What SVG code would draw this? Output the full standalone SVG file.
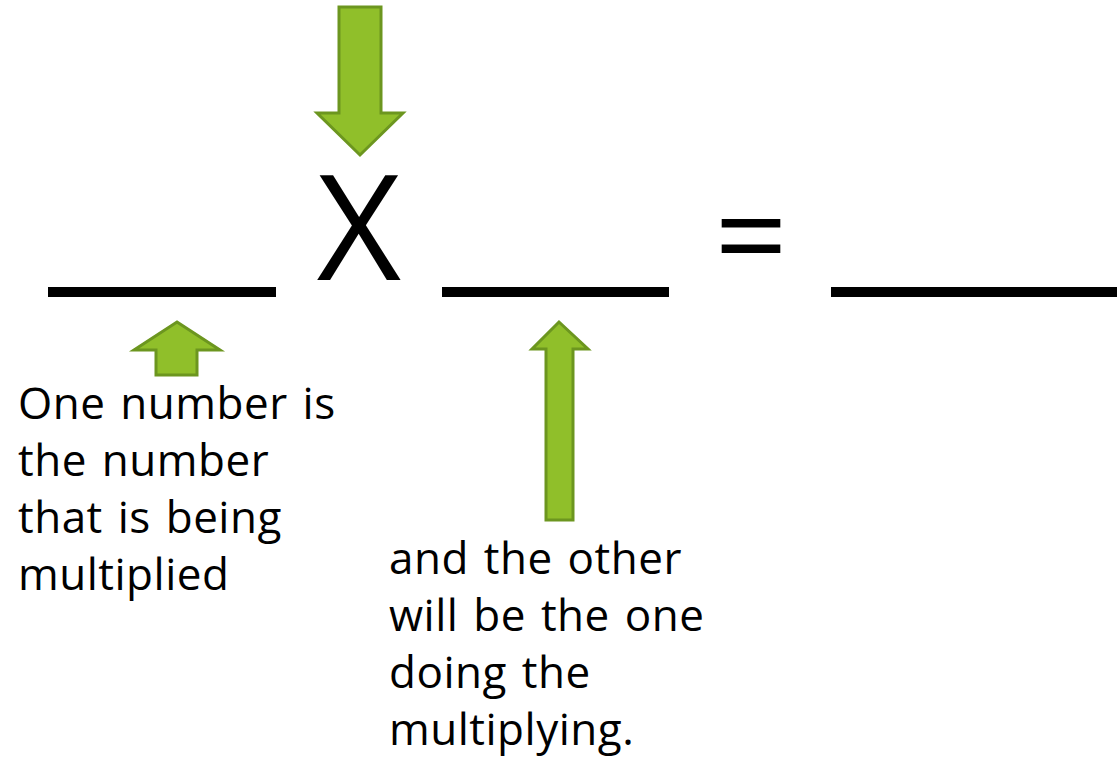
<svg xmlns="http://www.w3.org/2000/svg" width="1117" height="757" viewBox="0 0 1117 757">
<style>
.arrow{fill:#90bf2a;stroke:#6c961f;stroke-width:3;stroke-linejoin:miter}
.blank{fill:#000}
.lbl{font-family:"Open Sans","DejaVu Sans",sans-serif;font-size:44px;letter-spacing:0.5px;word-spacing:3px;fill:#000}
.big{font-family:"Open Sans","DejaVu Sans",sans-serif;fill:#000}
</style>
<rect width="1117" height="757" fill="#fff"/>
<g id="equation">
<rect class="blank" x="48" y="287" width="228" height="10"/>
<text class="big" x="359" y="280" font-size="146" text-anchor="middle">X</text>
<rect class="blank" x="442" y="287" width="227" height="10"/>
<text class="big" x="751" y="281" font-size="128" text-anchor="middle">=</text>
<rect class="blank" x="831" y="287" width="286" height="10"/>
</g>
<g id="connectors">
<path id="arrow-down" class="arrow" d="M339,7 H381 V113 H403 L360,155 L317,113 H339 Z"/>
<path id="arrow-up-small" class="arrow" d="M177,322 L220,350 H197 V375 H156 V350 H134 Z"/>
<path id="arrow-up-tall" class="arrow" d="M559,322 L588,349 H573 V520 H546 V349 H532 Z"/>
</g>
<g id="label-left">
<text class="lbl" x="18" y="419">One number is</text>
<text class="lbl" x="18" y="476">the number</text>
<text class="lbl" x="18" y="533">that is being</text>
<text class="lbl" x="18" y="590">multiplied</text>
</g>
<g id="label-right">
<text class="lbl" x="389" y="574">and the other</text>
<text class="lbl" x="389" y="631">will be the one</text>
<text class="lbl" x="389" y="688">doing the</text>
<text class="lbl" x="389" y="745">multiplying.</text>
</g>
</svg>
